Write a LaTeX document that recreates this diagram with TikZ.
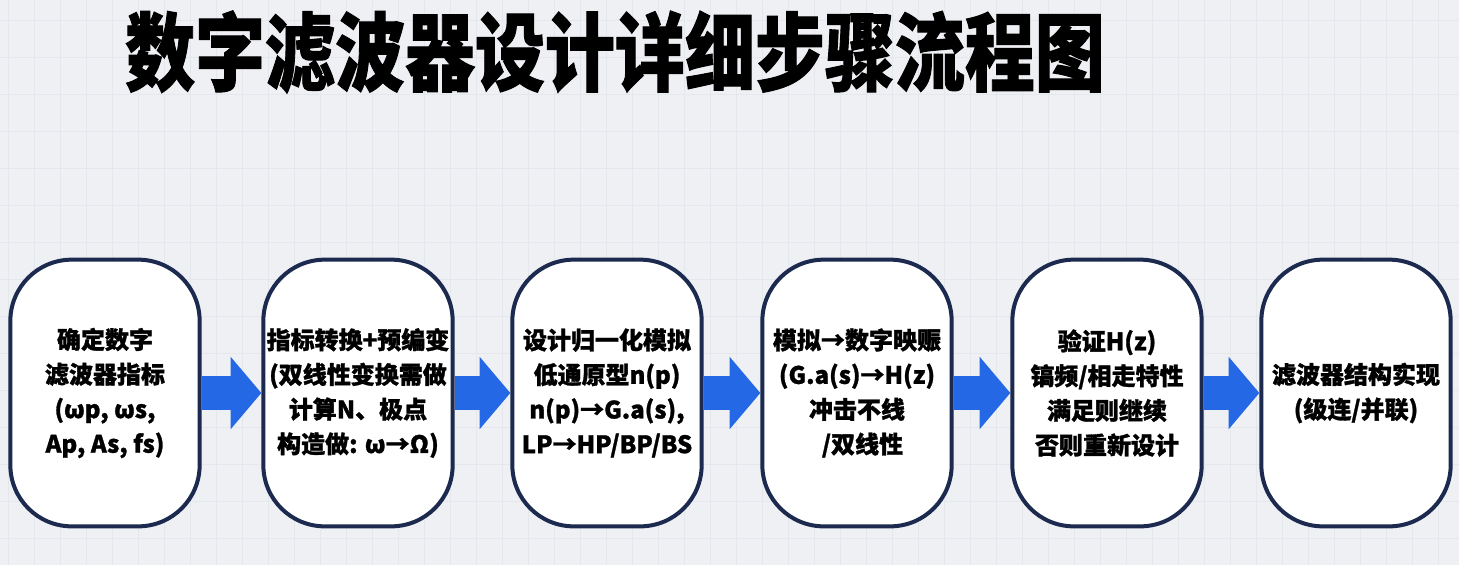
\documentclass[tikz,border=0pt]{standalone}
\usepackage{fontspec}
\usepackage{graphicx}
\setmainfont{Noto Sans CJK SC}[BoldFeatures={FakeBold=1.2}]
\usetikzlibrary{arrows.meta}
\definecolor{bgc}{HTML}{EEF0F4}
\definecolor{gridc}{HTML}{E4E7EB}
\definecolor{boxline}{HTML}{1B2A4E}
\definecolor{arrowc}{HTML}{2468E6}
\tikzset{
  stepbox/.style={draw=boxline, line width=3pt, fill=white, rounded corners=46pt,
    minimum width=142pt, minimum height=200pt, inner sep=0pt,
    align=center, font=\bfseries\fontsize{18pt}{26pt}\selectfont},
  flow/.style={draw=arrowc, line width=25.5pt,
    -{Triangle[length=23pt,width=53pt]}},
  gridline/.style={gridc, line width=0.6pt}
}
\begin{document}
\begin{tikzpicture}[x=0.75pt,y=-0.75pt]
\fill[bgc] (0,0) rectangle (1459,565);
\useasboundingbox (0,0) rectangle (1459,565);
\foreach \gx in {8,34,...,1459} \draw[gridline] (\gx,0) -- (\gx,565);
\foreach \gy in {20,57,...,565} \draw[gridline] (0,\gy) -- (1459,\gy);
\node (title) at (615,52) {\scalebox{0.82}[1]{\bfseries\fontsize{64pt}{70pt}\selectfont 数字滤波器设计详细步骤流程图}};
\node[stepbox] (b1) at (105,393) {确定数字\\滤波器指标\\(ωp, ωs,\\Ap, As, fs)};
\node[stepbox] (b2) at (358,393) {指标转换+预编变\\(双线性变换需做\\计算N、极点\\构造做: ω→Ω)};
\node[stepbox] (b3) at (607,393) {设计归一化模拟\\低通原型n(p)\\n(p)→G.a(s),\\LP→HP/BP/BS};
\node[stepbox] (b4) at (857,393) {模拟→数字映赈\\(G.a(s)→H(z)\\冲击不线\\\ \ /双线性};
\node[stepbox] (b5) at (1107,393) {验证H(z)\\镐频/相走特性\\满足则继续\\否则重新设计};
\node[stepbox] (b6) at (1356,393) {滤波器结构实现\\(级连/并联)};
\draw[flow] (b1.east) -- (b2.west);
\draw[flow] (b2.east) -- (b3.west);
\draw[flow] (b3.east) -- (b4.west);
\draw[flow] (b4.east) -- (b5.west);
\draw[flow] (b5.east) -- (b6.west);
\end{tikzpicture}
\end{document}
